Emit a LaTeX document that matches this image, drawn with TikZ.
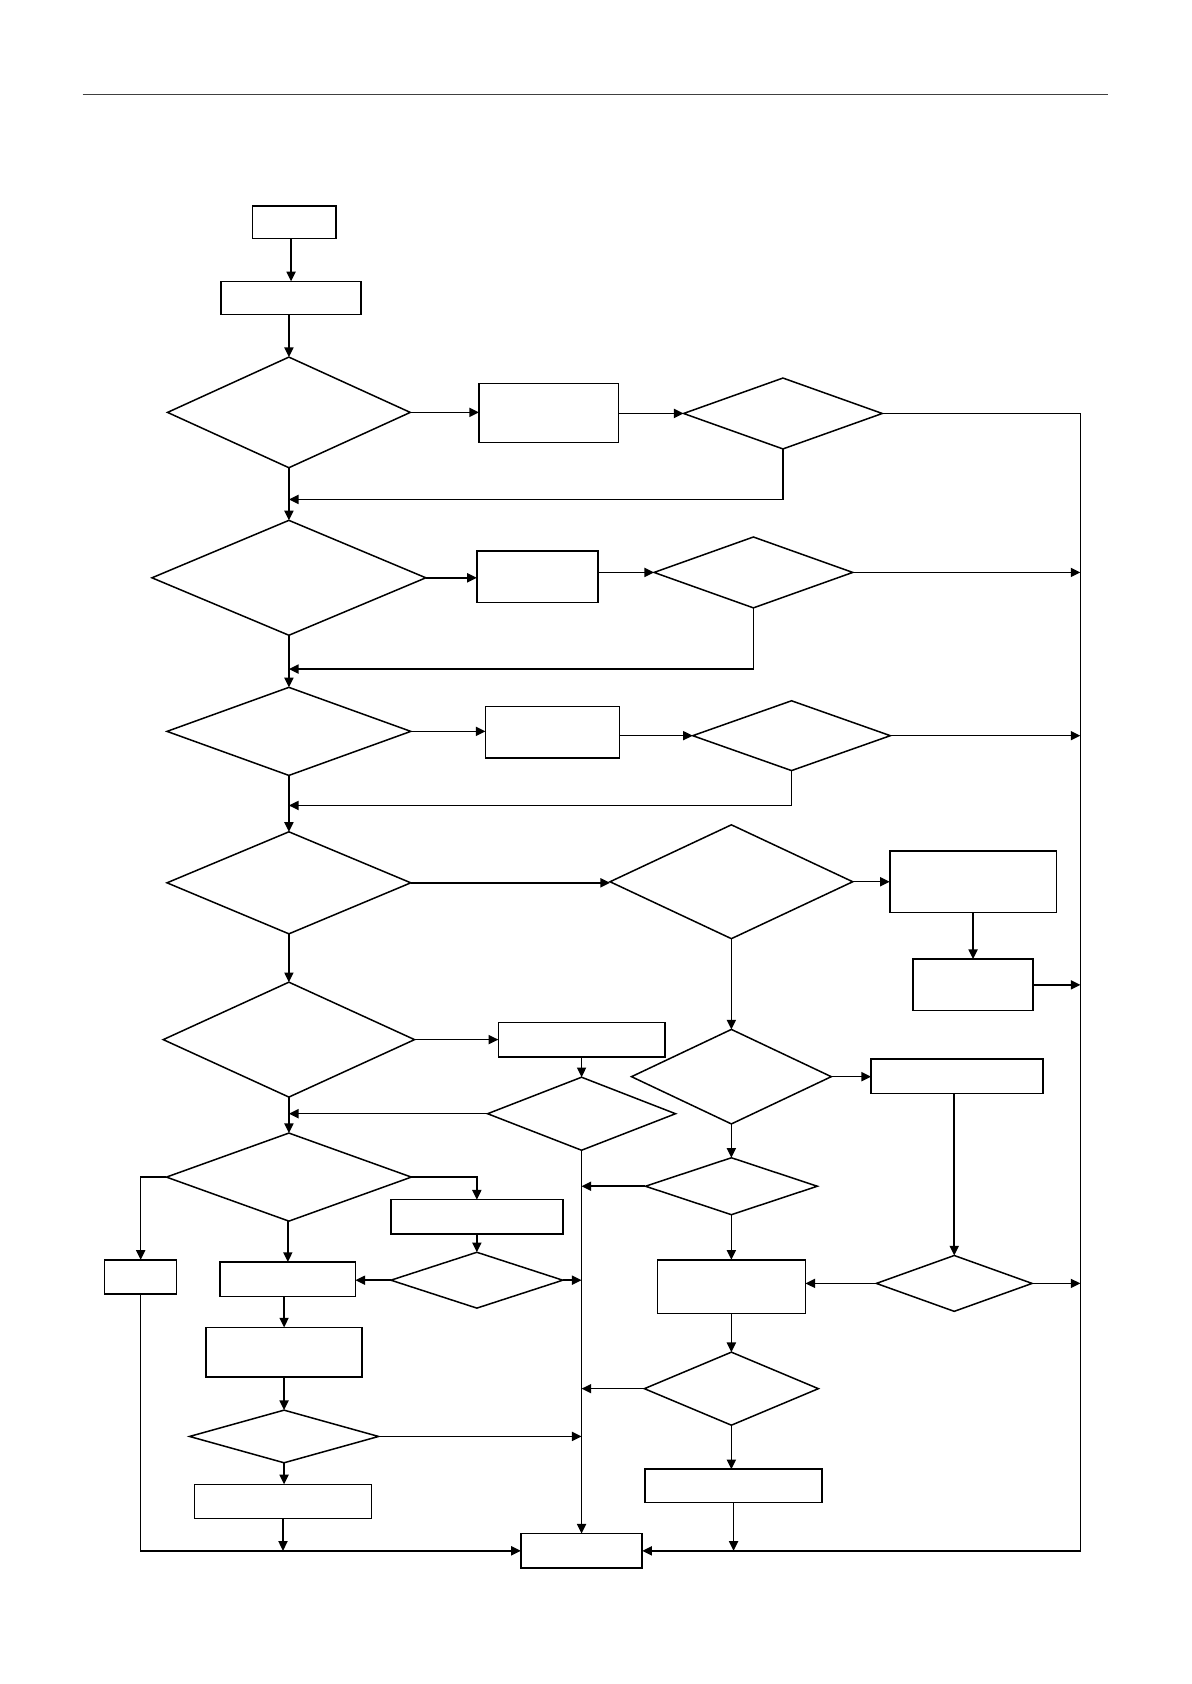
\documentclass[tikz,border=0pt]{standalone}
\usetikzlibrary{shapes.geometric,arrows.meta}
\begin{document}
\begin{tikzpicture}[x=1pt,y=-1pt,
  box/.style={draw, rectangle, inner sep=0pt, outer sep=0pt, line width=1.4pt},
  dia/.style={draw, diamond, inner sep=0pt, outer sep=0pt, line width=1.4pt},
  conn/.style={line width=1.4pt},
  arr/.style={conn, -{Triangle[length=9pt,width=8.5pt]}}]
\useasboundingbox (0,0) rectangle (1109,1568);
\fill[white] (0,0) rectangle (1109,1568);
% top rule
\coordinate (ruleL) at (77,88);
\coordinate (ruleR) at (1032,88);
\draw[line width=0.8pt, black!75] (ruleL) -- (ruleR);
% nodes
\node[box, minimum width=78pt, minimum height=30pt] (A) at (274,207) {};
\node[box, minimum width=130pt, minimum height=31pt] (B) at (271,277.5) {};
\node[dia, minimum width=226pt, minimum height=103pt] (D1) at (269,384) {};
\node[box, minimum width=130pt, minimum height=55pt] (C) at (511,384.5) {};
\node[dia, minimum width=185pt, minimum height=66pt] (D2) at (729,385) {};
\node[dia, minimum width=255pt, minimum height=107pt] (D3) at (269,538) {};
\node[box, minimum width=113pt, minimum height=48pt] (E) at (500.5,537) {};
\node[dia, minimum width=185pt, minimum height=66pt] (D4) at (701.5,533) {};
\node[dia, minimum width=227pt, minimum height=82pt] (D5) at (269,681) {};
\node[box, minimum width=125pt, minimum height=48pt] (F) at (514.5,682) {};
\node[dia, minimum width=184pt, minimum height=65pt] (D6) at (737,685) {};
\node[dia, minimum width=227pt, minimum height=95pt] (D7) at (269,822) {};
\node[dia, minimum width=226pt, minimum height=106pt] (D8) at (681,821) {};
\node[box, minimum width=155pt, minimum height=57pt] (G) at (906,821) {};
\node[box, minimum width=112pt, minimum height=48pt] (H) at (906,917) {};
\node[dia, minimum width=234pt, minimum height=107pt] (D10) at (269,968) {};
\node[box, minimum width=155pt, minimum height=32pt] (I) at (541.5,968) {};
\node[dia, minimum width=175pt, minimum height=68pt] (D11) at (541.5,1037) {};
\node[dia, minimum width=186pt, minimum height=88pt] (D9) at (681,1002.5) {};
\node[box, minimum width=160pt, minimum height=32pt] (J) at (891,1002) {};
\node[dia, minimum width=160pt, minimum height=53pt] (D14) at (681,1104.5) {};
\node[box, minimum width=138pt, minimum height=50pt] (K) at (681,1198) {};
\node[dia, minimum width=145pt, minimum height=52pt] (D13) at (888.5,1195) {};
\node[dia, minimum width=162pt, minimum height=68pt] (D15) at (681,1293) {};
\node[box, minimum width=165pt, minimum height=31pt] (L) at (683,1383.5) {};
\node[dia, minimum width=228pt, minimum height=82pt] (D12) at (269,1096) {};
\node[box, minimum width=67pt, minimum height=32pt] (M) at (131,1189) {};
\node[box, minimum width=160pt, minimum height=32pt] (N) at (444,1133) {};
\node[dia, minimum width=160pt, minimum height=52pt] (D16) at (444,1192) {};
\node[box, minimum width=126pt, minimum height=32pt] (O) at (268,1191) {};
\node[box, minimum width=145pt, minimum height=46pt] (P) at (264.5,1259) {};
\node[dia, minimum width=176pt, minimum height=49pt] (D17) at (264.5,1337.5) {};
\node[box, minimum width=165pt, minimum height=32pt] (Q) at (263.5,1398) {};
\node[box, minimum width=113pt, minimum height=32pt] (END) at (541.5,1444) {};
% helper coordinates
\coordinate (j1) at (269,465);
\coordinate (j2) at (269,623);
\coordinate (j3) at (269,750);
\coordinate (rtop) at (1006,384);
\coordinate (rbot) at (1006,1444);
% main trunk
\draw[arr] (A.south -| B.north) -- (B.north);
\draw[arr] (B.south -| D1.north) -- (D1.north);
\draw[arr] (D1.south) -- (D3.north);
\draw[arr] (D3.south) -- (D5.north);
\draw[arr] (D5.south) -- (D7.north);
\draw[arr] (D7.south) -- (D10.north);
\draw[arr] (D10.south) -- (D12.north);
% row 1
\draw[arr] (D1.east) -- (D1.east -| C.west);
\draw[arr] (D2.west -| C.east) -- (D2.west);
\draw[arr] (D2.south) |- (j1);
\draw[arr] (D2.east) -| (rbot) -- (END.east);
% row 2
\draw[arr] (D3.east) -- (D3.east -| E.west);
\draw[arr] (D4.west -| E.east) -- (D4.west);
\draw[arr] (D4.south) |- (j2);
\draw[arr] (D4.east) -- (D4.east -| rtop);
% row 3
\draw[arr] (D5.east) -- (D5.east -| F.west);
\draw[arr] (D6.west -| F.east) -- (D6.west);
\draw[arr] (D6.south) |- (j3);
\draw[arr] (D6.east) -- (D6.east -| rtop);
% row 4
\draw[arr] (D7.east) -- (D7.east -| D8.west);
\draw[arr] (D8.east) -- (D8.east -| G.west);
\draw[arr] (G.south) -- (H.north);
\draw[arr] (H.east) -- (H.east -| rtop);
\draw[arr] (D8.south) -- (D9.north);
% row 5
\draw[arr] (D10.east) -- (D10.east -| I.west);
\draw[arr] (I.south) -- (D11.north);
\draw[arr] (D11.west) -- (D11.west -| D10.south);
\draw[arr] (D11.south) -- (END.north);
% right column
\draw[arr] (D9.east) -- (D9.east -| J.west);
\draw[arr] (J.south -| D13.north) -- (D13.north);
\draw[arr] (D13.west) -- (D13.west -| K.east);
\draw[arr] (D13.east) -- (D13.east -| rtop);
\draw[arr] (D9.south) -- (D14.north);
\draw[arr] (D14.west) -- (D14.west -| END.north);
\draw[arr] (D14.south) -- (K.north);
\draw[arr] (K.south) -- (D15.north);
\draw[arr] (D15.west) -- (D15.west -| END.north);
\draw[arr] (D15.south) -- (D15.south |- L.north);
\draw[arr] (L.south) -- (L.south |- END.east);
% left column
\draw[arr] (D12.west) -| (M.north);
\draw[arr] (D12.east) -| (N.north);
\draw[arr] (N.south) -- (D16.north);
\draw[arr] (D16.west) -- (D16.west -| O.east);
\draw[arr] (D16.east) -- (D16.east -| END.north);
\draw[arr] (D12.south -| O.north) -- (O.north);
\draw[arr] (O.south -| P.north) -- (P.north);
\draw[arr] (P.south) -- (D17.north);
\draw[arr] (D17.east) -- (D17.east -| END.north);
\draw[arr] (D17.south) -- (D17.south |- Q.north);
\draw[arr] (Q.south) -- (Q.south |- END.west);
\draw[arr] (M.south) |- (END.west);
\end{tikzpicture}
\end{document}
